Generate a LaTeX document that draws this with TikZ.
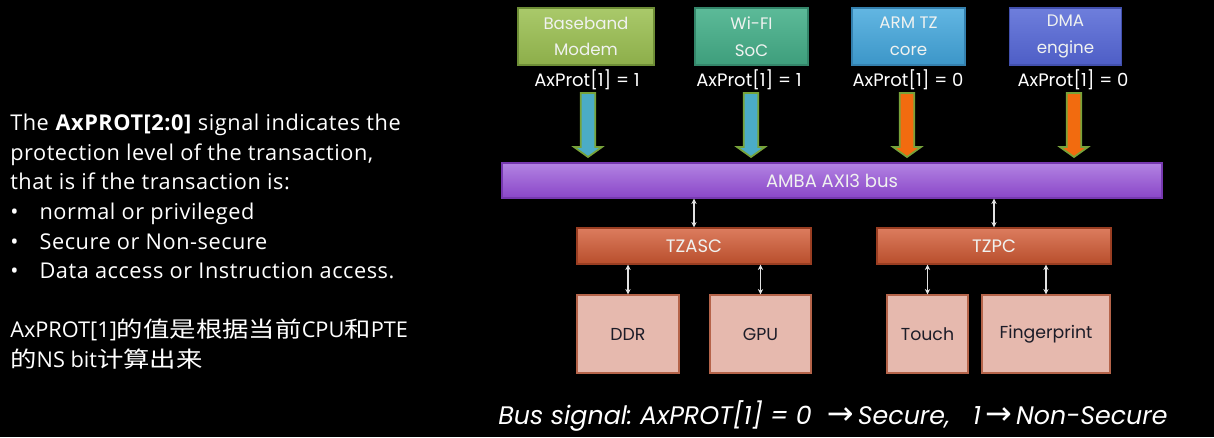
\documentclass[tikz,border=0pt]{standalone}
\usepackage{fontspec}
\setmainfont{Poppins}
\newfontfamily\cjkfont[FakeStretch=1.2]{Noto Sans CJK SC}
\newfontfamily\leftfont[LetterSpace=2.5]{Open Sans}
\newfontfamily\leftplain{Open Sans}
\newfontfamily\diagfont{Poppins}
\newfontfamily\symfont{DejaVu Sans}
\usetikzlibrary{arrows.meta,shadings,calc}
\definecolor{bbTop}{HTML}{A9C96A}\definecolor{bbBot}{HTML}{8DAE4A}\definecolor{bbLine}{HTML}{6E8E36}
\definecolor{wfTop}{HTML}{5CBA98}\definecolor{wfBot}{HTML}{3E9E7C}\definecolor{wfLine}{HTML}{34866A}
\definecolor{arTop}{HTML}{62B6E2}\definecolor{arBot}{HTML}{3C96C8}\definecolor{arLine}{HTML}{3480AE}
\definecolor{dmTop}{HTML}{6E7EDC}\definecolor{dmBot}{HTML}{4E5EC6}\definecolor{dmLine}{HTML}{4250AE}
\definecolor{buTop}{HTML}{B283E2}\definecolor{buBot}{HTML}{8A46C8}\definecolor{buLine}{HTML}{7638B0}
\definecolor{tzTop}{HTML}{DC7C5E}\definecolor{tzBot}{HTML}{B84E2C}\definecolor{tzLine}{HTML}{9A3E22}
\definecolor{pkFill}{HTML}{E6B9AE}\definecolor{pkLine}{HTML}{B5644A}\definecolor{pkText}{HTML}{1C1C28}
\definecolor{arBlue}{HTML}{4BACC6}\definecolor{arOrange}{HTML}{F26B0F}\definecolor{arGreen}{HTML}{77A33A}
\definecolor{boxText}{HTML}{F0F2F0}\definecolor{dblLine}{HTML}{E2E2E2}
\def\pxu{0.75pt}
\newcommand\zh[1]{{\cjkfont\fontsize{16.5}{22.2}\selectfont #1}}
\tikzset{
  master/.style={draw=#1Line, top color=#1Top, bottom color=#1Bot, line width=1pt,
    text=boxText, align=center, inner sep=0pt, font=\diagfont\fontsize{12.5}{20}\selectfont,
    minimum height=57*\pxu},
  bar/.style={draw=#1Line, top color=#1Top, bottom color=#1Bot, line width=1pt,
    text=boxText, inner sep=0pt, font=\diagfont\fontsize{13.5}{15}\selectfont},
  slave/.style={draw=pkLine, fill=pkFill, line width=1pt, text=pkText, inner sep=0pt,
    font=\diagfont\fontsize{13}{15}\selectfont, minimum height=78*\pxu},
  prot/.style={text=white, inner sep=0pt, font=\diagfont\fontsize{13.5}{15}\selectfont},
  dbl/.style={draw=dblLine, line width=1pt, {Stealth[length=4pt,width=4pt]}-{Stealth[length=4pt,width=4pt]}},
  blk/.style={fill=#1, draw=arGreen, line width=1.3pt, line join=miter}
}
\begin{document}
\begin{tikzpicture}[x=0.75pt,y=-0.75pt]
\useasboundingbox[fill=black] (0,0) rectangle (1214,437);

% left explanatory text
\node[anchor=north west, inner sep=0pt, text=white, align=left,
      font=\leftfont\fontsize{16.3}{22.2}\selectfont] (expl) at (10,114) {%
The \textbf{AxPROT[2:0]} signal indicates the\\
protection level of the transaction,\\
that is if the transaction is:\\
\makebox[22pt][l]{•}normal or privileged\\
\makebox[22pt][l]{•}Secure or Non-secure\\
\makebox[22pt][l]{•}Data access or Instruction access.\\[22.2pt]
{\leftplain AxPROT[1]\zh{的值是根据当前}CPU\zh{和}PTE}\\
{\leftplain\zh{的}NS bit\zh{计算出来}}};

% masters
\node[master=bb, minimum width=136*\pxu] (bb) at (586,36.5) {Baseband\\Modem};
\node[master=wf, minimum width=113*\pxu] (wf) at (751.5,36.5) {Wi-FI\\SoC};
\node[master=ar, minimum width=113*\pxu] (ar) at (908.5,36.5) {ARM TZ\\core};
\node[master=dm, minimum width=112*\pxu] (dm) at (1065.5,36.5) {DMA\\engine};

\node[prot] (pbb) at (587,80) {AxProt[1] = 1};
\node[prot] (pwf) at (749,80) {AxProt[1] = 1};
\node[prot] (par) at (908,80) {AxProt[1] = 0};
\node[prot] (pdm) at (1073,80) {AxProt[1] = 0};

% bus
\node[bar=bu, minimum width=660*\pxu, minimum height=35*\pxu] (bus) at (832,180.5) {AMBA AXI3 bus};

% block arrows from the AxProt labels down to the bus
\coordinate (abb) at (588,0);
\coordinate (awf) at (751,0);
\coordinate (aar) at (907,0);
\coordinate (adm) at (1074,0);
\foreach \a/\c in {abb/arBlue, awf/arBlue, aar/arOrange, adm/arOrange}{
  \draw[blk=\c] let \p1=(\a) in
    (\x1-5.5,93) -- (\x1+5.5,93) -- (\x1+5.5,147) -- (\x1+10.5,147)
    -- (\x1,157) -- (\x1-10.5,147) -- (\x1-5.5,147) -- cycle;
}

% controllers
\node[bar=tz, minimum width=234*\pxu, minimum height=36*\pxu] (tzasc) at (694,246) {TZASC};
\node[bar=tz, minimum width=234*\pxu, minimum height=36*\pxu] (tzpc) at (994,246) {TZPC};

% slaves
\node[slave, minimum width=102*\pxu] (ddr) at (628,334) {DDR};
\node[slave, minimum width=101*\pxu] (gpu) at (760.5,334) {GPU};
\node[slave, minimum width=81*\pxu] (touch) at (927.5,334) {Touch};
\node[slave, minimum width=128*\pxu] (fp) at (1046,334) {Fingerprint};

% double arrows
\draw[dbl] (tzasc.north |- bus.south) -- (tzasc.north);
\draw[dbl] (tzpc.north |- bus.south) -- (tzpc.north);
\draw[dbl] (ddr.north |- tzasc.south) -- (ddr.north);
\draw[dbl] (gpu.north |- tzasc.south) -- (gpu.north);
\draw[dbl] (touch.north |- tzpc.south) -- (touch.north);
\draw[dbl] (fp.north |- tzpc.south) -- (fp.north);

% bottom caption
\node[text=white, inner sep=0pt, font=\diagfont\itshape\fontsize{19}{20}\selectfont] (cap) at (833,416)
  {Bus signal:\ AxPROT[1] = 0\ \ {\symfont\fontsize{24}{20}\selectfont→}\,Secure,\ \ \ 1\,{\symfont\fontsize{24}{20}\selectfont→}\,Non-Secure};
\end{tikzpicture}
\end{document}
